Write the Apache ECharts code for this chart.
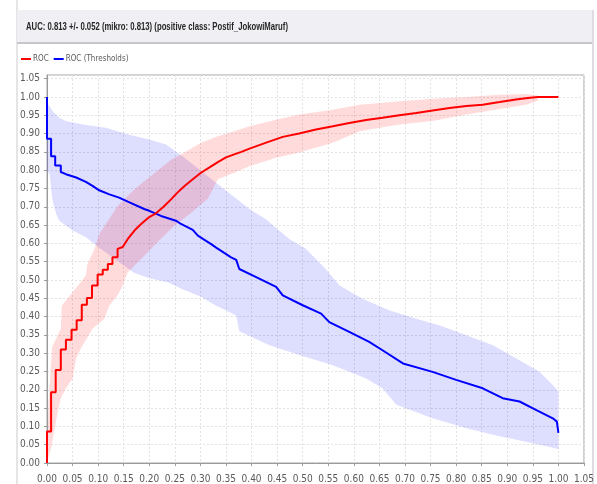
<!DOCTYPE html>
<html>
<head>
<meta charset="utf-8">
<title>ROC</title>
<script src="https://cdn.jsdelivr.net/npm/echarts@6/dist/echarts.min.js"></script>
<style>
  html, body { margin: 0; padding: 0; background: #ffffff; }
  #chart { width: 597px; height: 484px; }
</style>
</head>
<body>
<div id="chart"></div>
<script>
// Heading and legend names
const titleText = 'AUC: 0.813 +/- 0.052 (mikro: 0.813) (positive class: Postif_JokowiMaruf)';
const seriesNames = ['ROC', 'ROC (Thresholds)'];

// Axis ranges (tick step 0.05 on both axes)
const xRange = [0, 1.05];
const yRange = [0, 1.06];
const tickStep = 0.05;

// Mean ROC curve (false positive rate, true positive rate)
const rocX = [0, 0, 0.008, 0.008, 0.017, 0.017, 0.027, 0.027, 0.037, 0.037, 0.048, 0.048, 0.058, 0.058,
  0.068, 0.068, 0.078, 0.078, 0.088, 0.088, 0.099, 0.099, 0.109, 0.109, 0.119, 0.119, 0.128, 0.128, 0.138, 0.138,
  0.148, 0.158, 0.171, 0.184, 0.2, 0.213, 0.228, 0.243, 0.256, 0.269, 0.285, 0.301, 0.317, 0.334, 0.35, 0.366,
  0.38, 0.396, 0.43, 0.461, 0.493, 0.526, 0.559, 0.591, 0.624, 0.656, 0.689, 0.722, 0.754, 0.787, 0.82, 0.852,
  0.885, 0.917, 0.94, 0.96, 1.0];
const rocY = [0, 0.086, 0.086, 0.193, 0.193, 0.254, 0.254, 0.31, 0.31, 0.337, 0.337, 0.364, 0.364, 0.39,
  0.39, 0.432, 0.432, 0.451, 0.451, 0.485, 0.485, 0.515, 0.515, 0.528, 0.528, 0.544, 0.544, 0.562, 0.562, 0.585,
  0.59, 0.612, 0.635, 0.653, 0.672, 0.682, 0.7, 0.721, 0.74, 0.757, 0.775, 0.793, 0.807, 0.822, 0.835, 0.843,
  0.85, 0.859, 0.876, 0.891, 0.9, 0.911, 0.92, 0.929, 0.937, 0.943, 0.95, 0.956, 0.963, 0.97, 0.975, 0.979,
  0.986, 0.993, 0.997, 1.0, 1.0];

// ROC standard deviation band
const rocUpperX = [0, 0.003, 0.01, 0.027, 0.029, 0.047, 0.066, 0.076, 0.079, 0.093, 0.102, 0.138, 0.171, 0.203,
  0.243, 0.269, 0.301, 0.334, 0.366, 0.396, 0.448, 0.493, 0.559, 0.611, 0.689, 0.754, 0.82, 0.885, 0.937, 0.96];
const rocUpperY = [0, 0.168, 0.317, 0.367, 0.43, 0.462, 0.494, 0.512, 0.544, 0.585, 0.625, 0.702, 0.748, 0.784,
  0.829, 0.848, 0.875, 0.893, 0.906, 0.92, 0.938, 0.952, 0.965, 0.979, 0.988, 0.995, 1.0, 1.006, 1.008, 1.004];
const rocLowerX = [0, 0.008, 0.021, 0.027, 0.037, 0.05, 0.057, 0.066, 0.089, 0.112, 0.122, 0.138, 0.148, 0.158,
  0.184, 0.216, 0.249, 0.282, 0.314, 0.324, 0.334, 0.366, 0.396, 0.448, 0.493, 0.559, 0.611, 0.689, 0.754, 0.82,
  0.885, 0.937, 0.96];
const rocLowerY = [0, 0.041, 0.141, 0.177, 0.204, 0.231, 0.286, 0.313, 0.367, 0.394, 0.43, 0.458, 0.485, 0.521,
  0.557, 0.603, 0.648, 0.684, 0.721, 0.748, 0.775, 0.793, 0.811, 0.834, 0.848, 0.875, 0.906, 0.925, 0.934, 0.952,
  0.967, 0.979, 0.99];

// Mean threshold curve
const thrX = [0, 0, 0.008, 0.008, 0.016, 0.016, 0.027, 0.027, 0.037, 0.057, 0.076, 0.089, 0.102, 0.122, 0.141,
  0.158, 0.19, 0.2, 0.223, 0.252, 0.262, 0.285, 0.295, 0.311, 0.321, 0.33, 0.36, 0.37, 0.376, 0.379, 0.409,
  0.448, 0.461, 0.5, 0.536, 0.552, 0.591, 0.63, 0.656, 0.696, 0.754, 0.8, 0.852, 0.891, 0.924, 0.956, 0.989,
  0.997, 1.0];
const thrY = [1.0, 0.886, 0.886, 0.838, 0.838, 0.813, 0.813, 0.795, 0.789, 0.78, 0.768, 0.757, 0.745, 0.734,
  0.725, 0.714, 0.694, 0.689, 0.675, 0.662, 0.653, 0.637, 0.621, 0.607, 0.598, 0.589, 0.562, 0.555, 0.53, 0.526,
  0.508, 0.481, 0.458, 0.431, 0.408, 0.385, 0.358, 0.331, 0.308, 0.272, 0.249, 0.227, 0.204, 0.177, 0.168,
  0.145, 0.122, 0.113, 0.082];

// Threshold standard deviation band
const thrUpperX = [0, 0.003, 0.011, 0.024, 0.037, 0.07, 0.115, 0.161, 0.2, 0.233, 0.265, 0.298, 0.33, 0.363,
  0.396, 0.428, 0.474, 0.506, 0.545, 0.572, 0.617, 0.669, 0.722, 0.767, 0.82, 0.872, 0.917, 0.963, 0.989, 1.0];
const thrUpperY = [1.0, 0.979, 0.961, 0.943, 0.934, 0.925, 0.916, 0.897, 0.884, 0.87, 0.838, 0.802, 0.766, 0.73,
  0.694, 0.666, 0.612, 0.585, 0.53, 0.485, 0.449, 0.417, 0.394, 0.376, 0.349, 0.322, 0.286, 0.249, 0.213, 0.195];
const thrLowerX = [0, 0.005, 0.011, 0.018, 0.024, 0.05, 0.076, 0.1, 0.13, 0.17, 0.2, 0.236, 0.265, 0.3, 0.33,
  0.37, 0.376, 0.435, 0.493, 0.559, 0.624, 0.656, 0.683, 0.754, 0.82, 0.885, 0.95, 1.0];
const thrLowerY = [0.8, 0.79, 0.716, 0.68, 0.662, 0.635, 0.617, 0.59, 0.56, 0.52, 0.505, 0.494, 0.475, 0.455,
  0.43, 0.403, 0.36, 0.322, 0.295, 0.267, 0.231, 0.204, 0.159, 0.122, 0.095, 0.073, 0.054, 0.038];

const zip = (xs, ys) => xs.map((x, i) => [x, ys[i]]);

// Closed outline: upper edge left to right, lower edge right to left
function bandPoints(ux, uy, lx, ly) {
  return zip(ux, uy).concat(zip(lx, ly).reverse());
}

function bandSeries(name, points, color) {
  return {
    type: 'custom',
    name: name,
    silent: true,
    clip: true,
    z: 1,
    data: points,
    renderItem: function (params, api) {
      if (params.dataIndex !== 0) return null;
      return {
        type: 'polygon',
        shape: { points: points.map(p => api.coord(p)) },
        style: { fill: color, stroke: null }
      };
    }
  };
}

const labelFont = "'Liberation Sans Narrow', 'DejaVu Sans Condensed', 'Liberation Sans', sans-serif";

// Horizontal squeeze for the heading so it fits its box like a condensed face
const measureCtx = document.createElement('canvas').getContext('2d');
measureCtx.font = "bold 11px 'Liberation Sans'";
const titleWidth = measureCtx.measureText(titleText).width;
const titleScale = Math.min(1, 262 / titleWidth);

const chart = echarts.init(document.getElementById('chart'), null, { renderer: 'canvas' });

chart.setOption({
  backgroundColor: '#ffffff',
  animation: false,
  graphic: [
    { type: 'line', shape: { x1: 17, y1: 0, x2: 17, y2: 484 }, style: { stroke: '#dcdcdc', lineWidth: 1.5 } },
    { type: 'line', shape: { x1: 593, y1: 10, x2: 593, y2: 484 }, style: { stroke: '#dcdce2', lineWidth: 2 } },
    { type: 'rect', shape: { x: 17, y: 10, width: 575, height: 33 }, style: { fill: '#f0eff4' } },
    { type: 'line', shape: { x1: 17, y1: 43, x2: 592, y2: 43 }, style: { stroke: '#c6c6c8', lineWidth: 2 } },
    {
      type: 'text', x: 26, y: 27, scaleX: titleScale,
      style: {
        text: titleText, fill: '#262626', font: "bold 11px 'Liberation Sans'",
        textVerticalAlign: 'middle', verticalAlign: 'middle'
      }
    }
  ],
  legend: {
    left: 16, top: 50,
    itemWidth: 10, itemHeight: 2, itemGap: 5,
    icon: 'rect',
    data: seriesNames,
    textStyle: { fontSize: 8, color: '#5a5a5a', fontFamily: labelFont, padding: [0, 0, 0, -3] }
  },
  grid: {
    left: 47, top: 75, right: 12, bottom: 19,
    show: true, borderColor: '#a4a4a4', borderWidth: 1, backgroundColor: '#ffffff'
  },
  xAxis: {
    type: 'value', min: xRange[0], max: xRange[1], interval: tickStep,
    offset: 6,
    axisLine: { show: true, lineStyle: { color: '#9a9a9a', width: 1 } },
    axisTick: { show: true, length: 3, lineStyle: { color: '#9a9a9a' } },
    axisLabel: {
      margin: 5, fontSize: 10, color: '#5a5a5a', fontFamily: labelFont,
      formatter: v => v.toFixed(2)
    },
    splitLine: { show: true, lineStyle: { color: '#e2e2e2', type: [2, 2], width: 1 } }
  },
  yAxis: {
    type: 'value', min: yRange[0], max: yRange[1], interval: tickStep,
    offset: 4,
    axisLine: { show: true, lineStyle: { color: '#9a9a9a', width: 1 } },
    axisTick: { show: true, length: 3, lineStyle: { color: '#9a9a9a' } },
    axisLabel: {
      margin: 3, fontSize: 10, color: '#5a5a5a', fontFamily: labelFont,
      showMaxLabel: false,
      formatter: v => v.toFixed(2)
    },
    splitLine: { show: true, lineStyle: { color: '#e2e2e2', type: [2, 2], width: 1 } }
  },
  series: [
    bandSeries('thr-band', bandPoints(thrUpperX, thrUpperY, thrLowerX, thrLowerY), 'rgba(0, 0, 255, 0.13)'),
    bandSeries('roc-band', bandPoints(rocUpperX, rocUpperY, rocLowerX, rocLowerY), 'rgba(255, 0, 0, 0.14)'),
    {
      type: 'line', name: seriesNames[1], data: zip(thrX, thrY),
      showSymbol: false, symbol: 'none', z: 3,
      lineStyle: { color: '#0000ff', width: 2 }, itemStyle: { color: '#0000ff' }
    },
    {
      type: 'line', name: seriesNames[0], data: zip(rocX, rocY),
      showSymbol: false, symbol: 'none', z: 4,
      lineStyle: { color: '#ff0000', width: 2 }, itemStyle: { color: '#ff0000' }
    }
  ]
});
</script>
</body>
</html>
